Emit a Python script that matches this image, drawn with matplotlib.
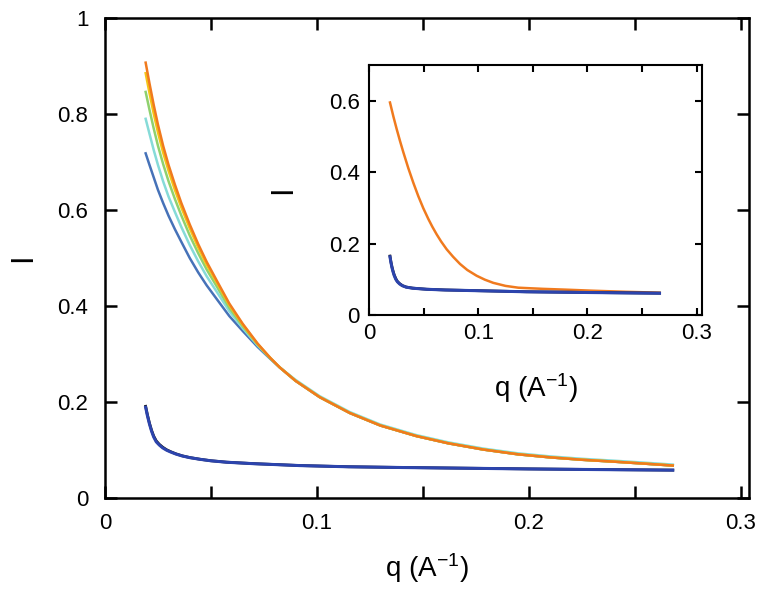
import matplotlib
matplotlib.use("Agg")
import matplotlib.pyplot as plt
from matplotlib.ticker import MultipleLocator

plt.rcParams['font.family'] = ['Liberation Sans', 'DejaVu Sans']
plt.rcParams['mathtext.default'] = 'regular'

# ---- main panel data ----
q_hi = [0.0192, 0.021, 0.023, 0.025, 0.0275, 0.030, 0.033, 0.036, 0.040, 0.044,
        0.048, 0.053, 0.0587, 0.065, 0.072, 0.078, 0.0825,
        0.090, 0.1014, 0.1156, 0.130, 0.147, 0.162, 0.1785, 0.195, 0.21, 0.225,
        0.2414, 0.255, 0.268]
tail = [0.244, 0.210, 0.177, 0.151, 0.129, 0.114, 0.101, 0.091, 0.0847, 0.0797,
        0.0754, 0.0715, 0.0676]
tail_cyan = [0.246, 0.212, 0.179, 0.153, 0.131, 0.116, 0.103, 0.093, 0.0867, 0.0817,
             0.0774, 0.0735, 0.0696]
I_orange = [0.907, 0.864, 0.819, 0.778, 0.733, 0.694, 0.653, 0.615, 0.570, 0.529,
            0.492, 0.451, 0.405, 0.363, 0.322, 0.292, 0.272] + tail
I_yellow = [0.885, 0.844, 0.801, 0.762, 0.719, 0.682, 0.642, 0.606, 0.562, 0.522,
            0.486, 0.447, 0.402, 0.361, 0.321, 0.292, 0.272] + tail
I_green = [0.846, 0.809, 0.770, 0.734, 0.695, 0.660, 0.623, 0.589, 0.547, 0.510,
           0.476, 0.439, 0.396, 0.358, 0.320, 0.291, 0.272] + tail
I_cyan = [0.790, 0.759, 0.725, 0.694, 0.659, 0.628, 0.596, 0.565, 0.527, 0.493,
          0.462, 0.428, 0.389, 0.354, 0.318, 0.291, 0.272] + tail_cyan
I_steel = [0.718, 0.694, 0.668, 0.642, 0.614, 0.588, 0.560, 0.534, 0.500, 0.470,
           0.443, 0.413, 0.379, 0.348, 0.315, 0.290, 0.272] + tail

q_lo = [0.0192, 0.0200, 0.0210, 0.0220, 0.0230, 0.0242, 0.0256, 0.0272, 0.0291, 0.031,
        0.0335, 0.0365, 0.0401, 0.045, 0.050, 0.0574, 0.07, 0.092, 0.115, 0.14,
        0.17, 0.2, 0.23, 0.268]
I_blue = [0.189, 0.172, 0.154, 0.139, 0.127, 0.117, 0.1105, 0.1045, 0.0995, 0.0958,
          0.0915, 0.0875, 0.084, 0.0805, 0.0775, 0.0745, 0.0715, 0.0675, 0.065, 0.0635,
          0.062, 0.0605, 0.0593, 0.058]
I_black = [0.191, 0.174, 0.156, 0.141, 0.129, 0.119, 0.112, 0.106, 0.1005, 0.0965,
           0.092, 0.0878, 0.0842, 0.0806, 0.0776, 0.0746, 0.0716, 0.0676, 0.0651, 0.0636,
           0.0621, 0.0606, 0.0594, 0.0581]

# ---- inset data ----
q_in_o = [0.0192, 0.0223, 0.0253, 0.0284, 0.0314, 0.036, 0.0406, 0.0451, 0.0497, 0.0543,
          0.058, 0.0619, 0.066, 0.0711, 0.077, 0.0833, 0.090, 0.0985, 0.106, 0.1138,
          0.125, 0.1366, 0.148, 0.1595, 0.18, 0.205, 0.235, 0.266]
I_in_o = [0.595, 0.556, 0.521, 0.487, 0.456, 0.411, 0.370, 0.333, 0.299, 0.269,
          0.247, 0.226, 0.206, 0.184, 0.163, 0.143, 0.126, 0.110, 0.099, 0.090,
          0.0815, 0.0765, 0.0748, 0.0732, 0.071, 0.068, 0.065, 0.0625]
q_in_b = [0.0192, 0.020, 0.021, 0.022, 0.023, 0.0245, 0.026, 0.028, 0.0305, 0.034,
          0.040, 0.0528, 0.07, 0.1, 0.144, 0.2, 0.266]
I_in_b = [0.163, 0.148, 0.133, 0.121, 0.111, 0.100, 0.093, 0.087, 0.082, 0.078,
          0.075, 0.072, 0.070, 0.068, 0.065, 0.063, 0.061]
I_in_k = [0.165, 0.150, 0.135, 0.123, 0.113, 0.102, 0.094, 0.088, 0.0825, 0.0783,
          0.0752, 0.0721, 0.0701, 0.0681, 0.0651, 0.0631, 0.0611]

c_orange = '#f07a1e'
c_yellow = '#f5c518'
c_green = '#8fd16e'
c_cyan = '#86dbd8'
c_steel = '#4672b8'
c_blue = '#2c44ad'
c_black = '#141414'

xlab = 'q (A$^{-1}$)'

fig = plt.figure(figsize=(7.64, 5.92), dpi=100)
ax = fig.add_axes([0.1374, 0.1588, 0.843, 0.8108])

ax.plot(q_hi, I_steel, color=c_steel, lw=1.8)
ax.plot(q_hi, I_cyan, color=c_cyan, lw=1.8)
ax.plot(q_hi, I_green, color=c_green, lw=1.8)
ax.plot(q_hi, I_yellow, color=c_yellow, lw=1.8)
ax.plot(q_hi, I_orange, color=c_orange, lw=1.8)
ax.plot(q_lo, I_black, color=c_black, lw=2.0)
ax.plot(q_lo, I_blue, color=c_blue, lw=2.2)

ax.set_xlim(0, 0.304)
ax.set_ylim(0, 1)
ax.set_xticks([0, 0.1, 0.2, 0.3])
ax.set_xticklabels(['0', '0.1', '0.2', '0.3'])
ax.xaxis.set_minor_locator(MultipleLocator(0.05))
ax.set_yticks([0, 0.2, 0.4, 0.6, 0.8, 1.0])
ax.set_yticklabels(['0', '0.2', '0.4', '0.6', '0.8', '1'])
ax.tick_params(which='both', direction='in', top=True, right=True,
               length=8.5, width=1.8, labelsize=16)
ax.tick_params(axis='x', pad=10.5)
ax.tick_params(axis='y', pad=12)
for s in ax.spines.values():
    s.set_linewidth(1.8)
ax.set_xlabel(xlab, fontsize=20, va='center')
ax.xaxis.set_label_coords(0.5, -0.146)
ax.set_ylabel('I', fontsize=22, va='center')
ax.yaxis.set_label_coords(-0.127, 0.5)

# ---- inset ----
ax2 = fig.add_axes([0.483, 0.4679, 0.436, 0.4223])
ax2.plot(q_in_o, I_in_o, color=c_orange, lw=1.8)
ax2.plot(q_in_b, I_in_k, color=c_black, lw=2.0)
ax2.plot(q_in_b, I_in_b, color=c_blue, lw=2.2)
ax2.set_xlim(0, 0.305)
ax2.set_ylim(0, 0.7)
ax2.set_xticks([0, 0.1, 0.2, 0.3])
ax2.set_xticklabels(['0', '0.1', '0.2', '0.3'])
ax2.xaxis.set_minor_locator(MultipleLocator(0.05))
ax2.set_yticks([0, 0.2, 0.4, 0.6])
ax2.set_yticklabels(['0', '0.2', '0.4', '0.6'])
ax2.tick_params(which='both', direction='in', top=True, right=True,
                length=5, width=1.5, labelsize=16)
ax2.tick_params(axis='x', pad=6)
ax2.tick_params(axis='y', pad=6.5)
for s in ax2.spines.values():
    s.set_linewidth(1.5)
ax2.set_xlabel(xlab, fontsize=20, va='center')
ax2.xaxis.set_label_coords(0.5, -0.292)
ax2.set_ylabel('I', fontsize=22, va='center')
ax2.yaxis.set_label_coords(-0.258, 0.5)

fig.savefig('out.png', dpi=100)
